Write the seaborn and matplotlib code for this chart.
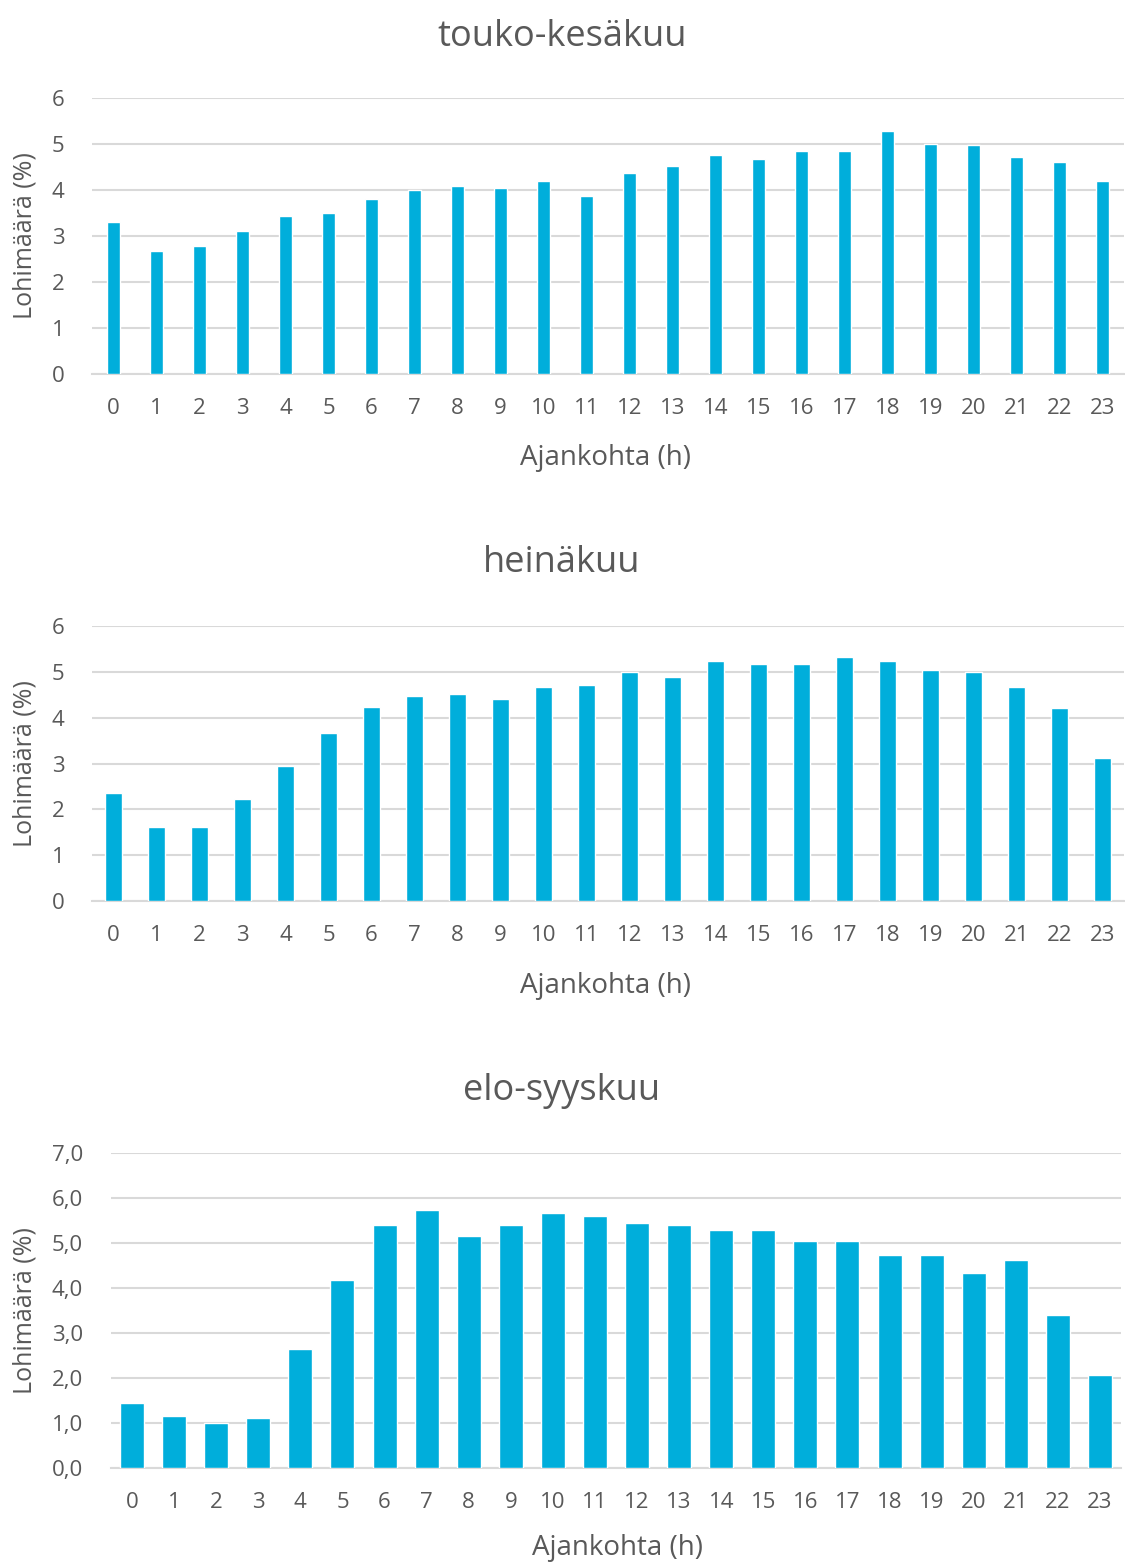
import matplotlib
matplotlib.use("Agg")
import matplotlib.pyplot as plt
import seaborn as sns
import pandas as pd

hours = [str(h) for h in range(24)]

touko_kesakuu = [3.31, 2.67, 2.79, 3.11, 3.44, 3.51, 3.80, 4.00, 4.08, 4.04, 4.20, 3.88,
                 4.36, 4.52, 4.76, 4.68, 4.84, 4.84, 5.29, 5.01, 4.97, 4.72, 4.61, 4.20]
heinakuu = [2.35, 1.61, 1.61, 2.22, 2.95, 3.67, 4.23, 4.47, 4.52, 4.40, 4.68, 4.72,
            5.00, 4.88, 5.24, 5.17, 5.17, 5.33, 5.24, 5.04, 5.00, 4.68, 4.20, 3.11]
elo_syyskuu = [1.45, 1.16, 0.99, 1.11, 2.64, 4.17, 5.40, 5.74, 5.16, 5.40, 5.66, 5.61,
               5.45, 5.40, 5.29, 5.29, 5.04, 5.04, 4.74, 4.74, 4.34, 4.62, 3.39, 2.06]

titles = ["touko-kesäkuu", "heinäkuu", "elo-syyskuu"]
y_ticks_1 = ["0", "1", "2", "3", "4", "5", "6"]
y_ticks_3 = ["0,0", "1,0", "2,0", "3,0", "4,0", "5,0", "6,0", "7,0"]
x_label = "Ajankohta (h)"
y_label = "Lohimäärä (%)"

sns.set_theme(style="white")
plt.rcParams['font.family'] = ['Open Sans', 'DejaVu Sans']

W, H = 1125, 1564
fig = plt.figure(figsize=(W / 100, H / 100), dpi=100)
fig.patch.set_facecolor("white")

text_col = "#595959"
grid_col = "#d9d9d9"
bar_col = "#00aedb"

# pixel boxes: left, right, top, bottom, title_y, xlabel_y, xlabel_x, bar width
panels = [
    (touko_kesakuu, y_ticks_1, 92, 1124, 98, 374, 37, 458, 606, 0.31),
    (heinakuu, y_ticks_1, 92, 1124, 626, 901, 563, 986, 606, 0.38),
    (elo_syyskuu, y_ticks_3, 111, 1121, 1153, 1468, 1091, 1548, 617, 0.57),
]

for (vals, yt, l, r, t, b, ty, xy, xx, bw), title in zip(panels, titles):
    ax = fig.add_axes([l / W, 1 - b / H, (r - l) / W, (b - t) / H])
    df = pd.DataFrame({"h": hours, "v": vals})
    sns.barplot(data=df, x="h", y="v", order=hours, color=bar_col, width=bw,
                saturation=1, ax=ax, zorder=3)
    nmax = len(yt) - 1
    ax.set_ylim(0, nmax)
    ax.set_xlim(-0.5, 23.5)
    ax.set_yticks(range(nmax + 1))
    ax.set_yticklabels(yt)
    ax.yaxis.grid(True, color=grid_col, linewidth=1.5, zorder=0)
    ax.set_axisbelow(True)
    for s in ["top", "right", "left"]:
        ax.spines[s].set_visible(False)
    ax.spines["bottom"].set_color(grid_col)
    ax.spines["bottom"].set_linewidth(1.5)
    ax.tick_params(axis="x", length=0, pad=17, labelsize=16, labelcolor=text_col)
    ax.tick_params(axis="y", length=0, pad=20, labelsize=16, labelcolor=text_col)
    ax.set_xlabel("")
    ax.set_ylabel("")
    fig.text(562 / W, 1 - ty / H, title, ha="center", va="center",
             fontsize=26, color=text_col)
    fig.text(xx / W, 1 - xy / H, x_label, ha="center", va="center",
             fontsize=20, color=text_col)
    fig.text(25 / W, 1 - (t + b) / 2 / H, y_label, ha="center", va="center",
             rotation=90, fontsize=18, color=text_col)

fig.savefig("out.png", dpi=100, facecolor="white")
